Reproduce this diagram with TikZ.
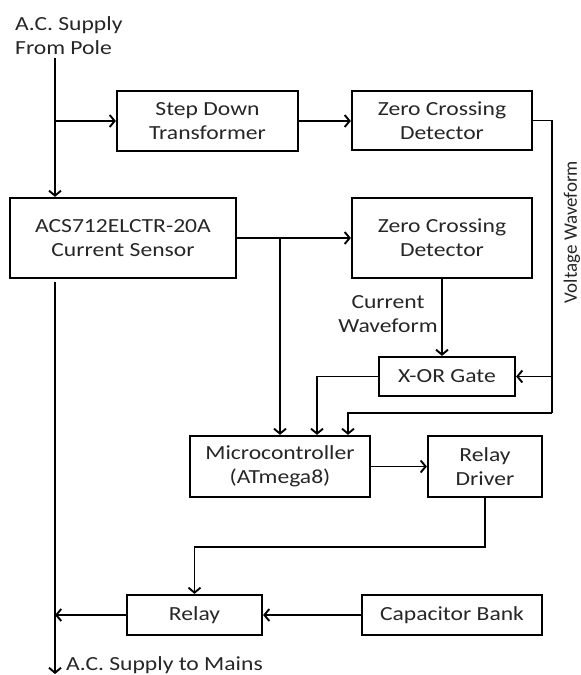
\documentclass[tikz,border=0pt]{standalone}
\usepackage{fontspec}
\setmainfont{Carlito}[FakeStretch=1.18]
\newfontfamily\sidefont{Carlito}
\usetikzlibrary{positioning, arrows.meta}

\begin{document}
\begin{tikzpicture}[x=1pt, y=-1pt,
    font=\fontsize{20}{24}\selectfont,
    blocknode/.style={draw=black, line width=2.2pt, align=center, inner sep=0pt, text=black!85},
    textnode/.style={inner sep=0pt, text=black!85},
    wire/.style={line width=1.9pt},
    arrowwire/.style={wire, -{Straight Barb[length=5pt, width=12pt, line width=1.9pt]}},
    ]
    \useasboundingbox (0,0) rectangle (581,675);
    %Nodes
    \node[blocknode, minimum width=181pt, minimum height=60pt] (stepdown) at (207.5,121) {Step Down\\Transformer};
    \node[blocknode, minimum width=180pt, minimum height=59pt] (zcd1) at (442,120.5) {Zero Crossing\\Detector};
    \node[blocknode, minimum width=226pt, minimum height=80pt] (sensor) at (123,238) {ACS712ELCTR-20A\\Current Sensor};
    \node[blocknode, minimum width=180pt, minimum height=80pt] (zcd2) at (442,238) {Zero Crossing\\Detector};
    \node[blocknode, minimum width=136pt, minimum height=39pt] (xor) at (447,376.5) {X-OR Gate};
    \node[blocknode, minimum width=180pt, minimum height=61pt] (micro) at (280,466.5) {Microcontroller\\(ATmega8)};
    \node[blocknode, minimum width=114pt, minimum height=61pt] (driver) at (485,466.5) {Relay\\Driver};
    \node[blocknode, minimum width=135pt, minimum height=40pt] (relay) at (194.5,615) {Relay};
    \node[blocknode, minimum width=180pt, minimum height=40pt] (capbank) at (452,615) {Capacitor Bank};

    %Labels
    \node[textnode, anchor=west, align=left] (polelabel) at (15,36) {A.C. Supply\\From Pole};
    \node[textnode, anchor=west] (mainslabel) at (66,665) {A.C. Supply to Mains};
    \node[textnode, align=center] (curlabel) at (388,314) {Current\\Waveform};
    \node[textnode, rotate=90, font=\sidefont\fontsize{19}{22}\selectfont] (vlabel) at (572,232) {Voltage Waveform};

    \coordinate (supplytop) at (55,58);
    \coordinate (mainsend) at (55,674);
    \coordinate (vcorner) at (552,413);

    %Supply side
    \draw[arrowwire] (supplytop) -- (supplytop |- sensor.north);
    \draw[arrowwire] (supplytop |- stepdown.west) -- (stepdown.west);
    \draw[arrowwire] (stepdown.east) -- (stepdown.east -| zcd1.west);
    \draw[arrowwire] ([yshift=-3pt]sensor.south -| supplytop) -- (mainsend);

    %Voltage waveform
    \draw[wire] (zcd1.east) -| (vcorner);
    \draw[arrowwire] (vcorner |- xor.east) -- (xor.east);
    \draw[arrowwire] (vcorner) -| ([xshift=68pt]micro.north);

    %Current waveform
    \draw[arrowwire] (sensor.east) -- (sensor.east -| zcd2.west);
    \draw[arrowwire] (sensor.east -| micro.north) -- (micro.north);
    \draw[arrowwire] (zcd2.south) -- (zcd2.south |- xor.north);
    \draw[arrowwire] (xor.west) -| ([xshift=37pt]micro.north);

    %Switching
    \draw[arrowwire] (micro.east) -- (driver.west);
    \draw[arrowwire] (driver.south) -- ++(0,49) -| (relay.north);
    \draw[arrowwire] (capbank.west) -- (relay.east);
    \draw[arrowwire] (relay.west) -- (relay.west -| supplytop);
\end{tikzpicture}
\end{document}
